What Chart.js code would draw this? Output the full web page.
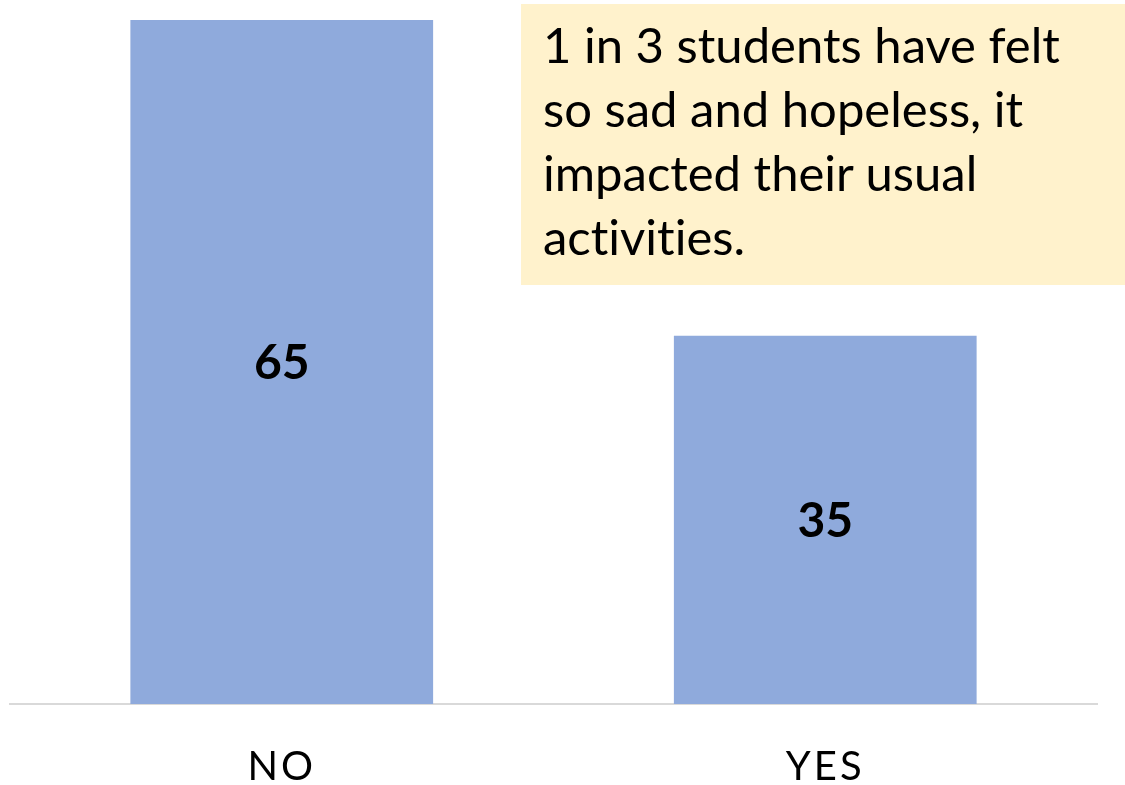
<!DOCTYPE html>
<html lang="en">
<head>
  <meta charset="utf-8" />
  <title>Felt sad and hopeless</title>
  <style>
body { margin: 0; background: #fff; }
#chartContainer {
  position: relative;
  width: 1125px;
  height: 785px;
}
#note {
  position: absolute;
  left: 521px;
  top: 4px;
  width: 604px;
  height: 281px;
  box-sizing: border-box;
  padding: 8px 0 0 22px;
  background: #FFF2CC;
  font-family: Lato, sans-serif;
  font-size: 49px;
  line-height: 64px;
  font-variant-ligatures: none;
  color: #000;
}
  </style>
</head>
<body>
  <div id="chartContainer">
    <canvas id="myChart"></canvas>
    <div id="note">1 in 3 students have felt<br>so sad and hopeless, it<br>impacted their usual<br>activities.</div>
  </div>
  <script src="https://cdn.jsdelivr.net/npm/chart.js"></script>
  <script>

const categories = ['NO', 'YES'];
const percents = [65, 35];

// 値ラベルを棒の真ん中に描く
const barLabels = {
  id: 'barLabels',
  beforeDraw(chart) {
    chart.ctx.letterSpacing = '3px'; // 軸ラベルの字間
  },
  beforeDatasetsDraw(chart) {
    chart.ctx.letterSpacing = '0px';
  },
  afterDatasetsDraw(chart) {
    const ctx = chart.ctx;
    const meta = chart.getDatasetMeta(0);
    ctx.save();
    ctx.font = 'bold 48px Lato, sans-serif';
    ctx.fillStyle = '#000';
    ctx.textAlign = 'center';
    ctx.textBaseline = 'middle';
    meta.data.forEach((bar, i) => {
      const p = bar.getProps(['x', 'y', 'base'], true);
      ctx.fillText(String(chart.data.datasets[0].data[i]), p.x, (p.y + p.base) / 2 + 2);
    });
    ctx.restore();
  }
};

const ctx = document.getElementById('myChart');
const chart = new Chart(ctx, {
  type: 'bar',
  data: {
    labels: categories,
    datasets: [{
      data: percents,
      backgroundColor: '#8FAADC',
      borderWidth: 0,
      categoryPercentage: 1.0,
      barPercentage: 0.557
    }]
  },
  options: {
    responsive: true,
    maintainAspectRatio: false,
    animation: false,
    events: [],
    layout: {
      padding: { left: 10, right: 28, top: 0, bottom: 0 }
    },
    plugins: {
      legend: { display: false },
      tooltip: { enabled: false }
    },
    scales: {
      x: {
        grid: { display: false },
        border: { display: true, color: '#D9D9D9', width: 2 },
        ticks: {
          color: '#000',
          padding: 31,
          font: { family: 'Lato, sans-serif', size: 40 }
        },
        afterFit(scale) {
          scale.height = 81;
        }
      },
      y: {
        display: false,
        min: 0,
        max: 66.9
      }
    }
  },
  plugins: [barLabels]
});

  </script>
</body>
</html>
